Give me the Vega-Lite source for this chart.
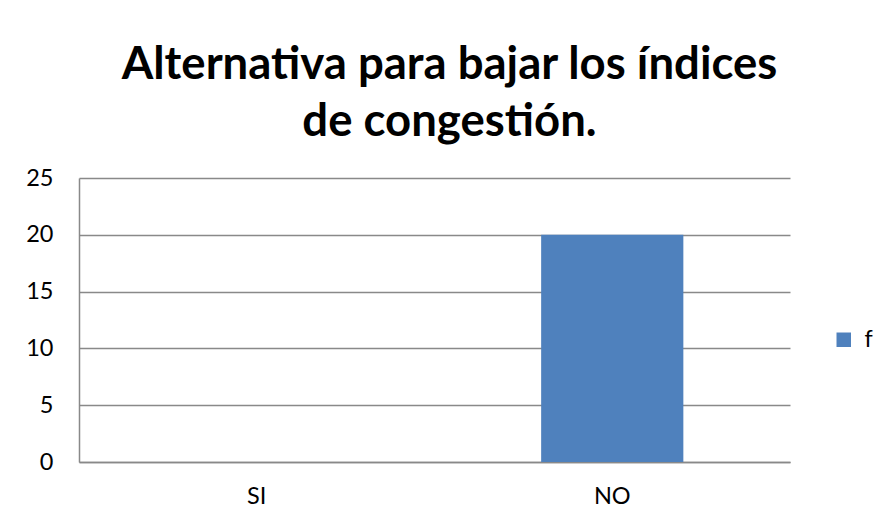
{
  "$schema": "https://vega.github.io/schema/vega-lite/v6.json",
  "autosize": "none",
  "padding": {"left": 79, "top": 178, "right": 86, "bottom": 63},
  "width": 711,
  "height": 284,
  "background": "white",
  "title": {
    "text": ["Alternativa para bajar los índices", "de congestión."],
    "font": "Lato",
    "fontWeight": "bold",
    "fontSize": 45.5,
    "lineHeight": 57,
    "color": "#000000",
    "anchor": "middle",
    "dx": 15,
    "offset": 21
  },
  "data": {
    "values": [
      {"categoria": "SI", "f": 0, "serie": "f"},
      {"categoria": "NO", "f": 20, "serie": "f"}
    ]
  },
  "mark": {"type": "bar"},
  "encoding": {
    "x": {
      "field": "categoria",
      "type": "nominal",
      "sort": ["SI", "NO"],
      "scale": {"paddingInner": 0.6, "paddingOuter": 0.3},
      "axis": {
        "title": null,
        "labelAngle": 0,
        "ticks": false,
        "labelPadding": 22,
        "labelFont": "Lato",
        "labelFontSize": 23.5,
        "labelColor": "#000000",
        "domainColor": "#898989",
        "domainWidth": 1.5,
        "grid": false
      }
    },
    "y": {
      "field": "f",
      "type": "quantitative",
      "scale": {"domain": [0, 25]},
      "axis": {
        "title": null,
        "values": [0, 5, 10, 15, 20, 25],
        "ticks": false,
        "labelPadding": 26,
        "labelFont": "Lato",
        "labelFontSize": 23.5,
        "labelColor": "#000000",
        "domainColor": "#898989",
        "domainWidth": 1.5,
        "gridColor": "#898989",
        "gridWidth": 1.5
      }
    },
    "color": {
      "field": "serie",
      "type": "nominal",
      "scale": {"range": ["#4F81BD"]},
      "legend": {
        "title": null,
        "orient": "none",
        "legendX": 753,
        "legendY": 150,
        "symbolType": "square",
        "symbolSize": 210,
        "symbolStrokeWidth": 0,
        "labelFont": "Lato",
        "labelFontSize": 23.5,
        "labelColor": "#000000",
        "labelOffset": 9
      }
    }
  },
  "config": {
    "view": {"stroke": null}
  }
}
